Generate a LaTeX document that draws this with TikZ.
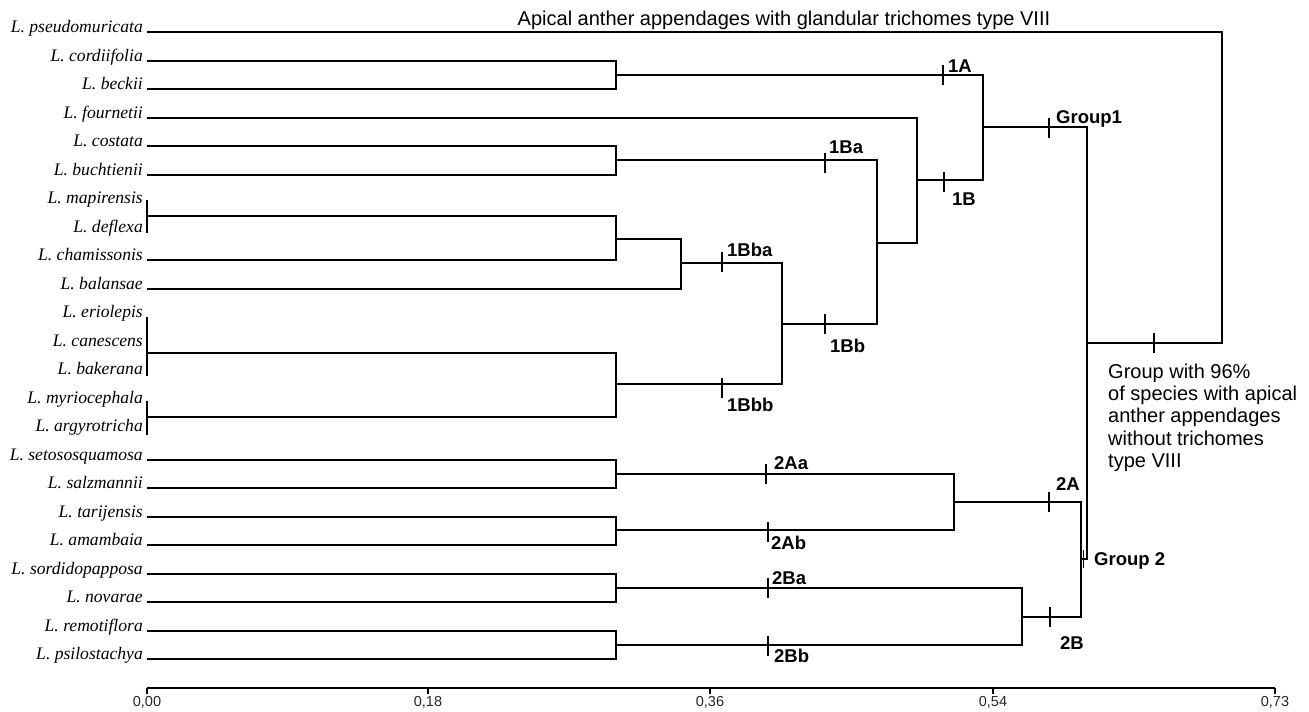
\documentclass[tikz,border=0pt]{standalone}
\usepackage{fontspec}
\setmainfont{Liberation Serif}
\newfontfamily\lsans{Liberation Sans}
\begin{document}
\begin{tikzpicture}[x=1pt,y=-1pt,
  br/.style={line width=2pt,black},
  barline/.style={line width=2.2pt,black},
  tickline/.style={line width=2pt,black},
  leaf/.style={anchor=base east,inner sep=0pt,font=\fontsize{17.6}{20}\selectfont\itshape},
  cl/.style={anchor=base west,inner sep=0pt,font=\lsans\bfseries\fontsize{18.5}{20}\selectfont},
  axlab/.style={anchor=center,inner sep=0pt,text=black!85,font=\lsans\fontsize{14.5}{16}\selectfont}]
\useasboundingbox (0,0) rectangle (1309,712);
% leaves
\foreach \n/\t/\y in {pseu/L. pseudomuricata/32, cord/L. cordiifolia/61, beck/L. beckii/89,
  four/L. fournetii/118, cost/L. costata/146, buch/L. buchtienii/175, mapi/L. mapirensis/203,
  defl/L. deflexa/232, cham/L. chamissonis/260, bala/L. balansae/289, erio/L. eriolepis/317,
  cane/L. canescens/346, bake/L. bakerana/374, myri/L. myriocephala/403, argy/L. argyrotricha/431,
  seto/L. setososquamosa/460, salz/L. salzmannii/488, tari/L. tarijensis/517, amam/L. amambaia/545,
  sord/L. sordidopapposa/574, nova/L. novarae/602, remo/L. remotiflora/631, psil/L. psilostachya/659}
{
  \node[leaf] (\n) at (143,\y) {\t};
  \coordinate (\n-t) at (147,\y);
}
% bars for grouped leaves
\coordinate (bar1) at (147,216);
\coordinate (bar2) at (147,353);
\coordinate (bar3) at (147,417);
\draw[barline] (147,200) -- (147,233);
\draw[barline] (147,317) -- (147,376);
\draw[barline] (147,401) -- (147,435);
% junctions
\coordinate (k1) at (616,75);
\coordinate (k2) at (616,160);
\coordinate (k3) at (616,239);
\coordinate (k4) at (681,263);
\coordinate (k5) at (616,384);
\coordinate (k6) at (782,324);
\coordinate (k7) at (877,243);
\coordinate (k8) at (917,180);
\coordinate (k9) at (983,127);
\coordinate (k10) at (616,474);
\coordinate (k11) at (616,530);
\coordinate (k12) at (954,502);
\coordinate (k13) at (616,588);
\coordinate (k14) at (616,645);
\coordinate (k15) at (1022,617);
\coordinate (k16) at (1081,559);
\coordinate (k17) at (1087,343);
\coordinate (root) at (1222,343);
% branches
\draw[br] (cord-t) -| (k1) |- (beck-t);
\draw[br] (cost-t) -| (k2) |- (buch-t);
\draw[br] (bar1) -| (k3) |- (cham-t);
\draw[br] (k3) -| (k4) |- (bala-t);
\draw[br] (bar2) -| (k5) |- (bar3);
\draw[br] (k4) -| (k6) |- (k5);
\draw[br] (k2) -| (k7) |- (k6);
\draw[br] (four-t) -| (k8) |- (k7);
\draw[br] (k1) -| (k9) |- (k8);
\draw[br] (seto-t) -| (k10) |- (salz-t);
\draw[br] (tari-t) -| (k11) |- (amam-t);
\draw[br] (k10) -| (k12) |- (k11);
\draw[br] (sord-t) -| (k13) |- (nova-t);
\draw[br] (remo-t) -| (k14) |- (psil-t);
\draw[br] (k13) -| (k15) |- (k14);
\draw[br] (k12) -| (k16) |- (k15);
\draw[br] (k9) -| (k17) |- (k16);
\draw[br] (pseu-t) -| (root) |- (k17);
% ticks on branches
\draw[tickline] (943,65) -- (943,85);
\draw[tickline] (944,172) -- (944,192);
\draw[tickline] (825,153) -- (825,173);
\draw[tickline] (722,252) -- (722,272);
\draw[tickline] (722,378) -- (722,398);
\draw[tickline] (825,314) -- (825,334);
\draw[tickline] (1049,118) -- (1049,138);
\draw[tickline] (1154,333) -- (1154,353);
\draw[tickline] (766,464) -- (766,484);
\draw[tickline] (768,522) -- (768,542);
\draw[tickline] (768,578) -- (768,598);
\draw[tickline] (768,636) -- (768,656);
\draw[tickline] (1049,492) -- (1049,512);
\draw[tickline] (1050,607) -- (1050,627);
\draw[line width=1.2pt] (1083.5,550) -- (1083.5,568);
% cluster labels
\node[cl] (l1A) at (948,72) {1A};
\node[cl] (l1B) at (952,205) {1B};
\node[cl] (l1Ba) at (829,153) {1Ba};
\node[cl] (l1Bba) at (727,256) {1Bba};
\node[cl] (l1Bb) at (830,352) {1Bb};
\node[cl] (l1Bbb) at (727,411) {1Bbb};
\node[cl] (lG1) at (1056,123) {Group1};
\node[cl] (l2Aa) at (774,469) {2Aa};
\node[cl] (l2Ab) at (771,549) {2Ab};
\node[cl] (l2Ba) at (772,584) {2Ba};
\node[cl] (l2Bb) at (774,662) {2Bb};
\node[cl] (l2A) at (1056,490) {2A};
\node[cl] (l2B) at (1060,649) {2B};
\node[cl] (lG2) at (1094,565) {Group 2};
% annotations
\node[anchor=base,inner sep=0pt,font=\lsans\fontsize{20}{22}\selectfont] (title) at (784,25)
  {Apical anther appendages with glandular trichomes type VIII};
\node[anchor=north west,inner sep=0pt,align=left,font=\lsans\fontsize{20}{22.3}\selectfont] (g96) at (1108,363.5)
  {Group with 96\%\\of species with apical\\anther appendages\\without trichomes\\type VIII};
% axis
\coordinate (ax0) at (147,688);
\coordinate (ax1) at (1275,688);
\draw[line width=2pt] (ax0) -- (ax1);
\foreach \x/\l [count=\i] in {147/{0,00}, 428/{0,18}, 710/{0,36}, 993/{0,54}, 1275/{0,73}}
{
  \draw[line width=1.6pt] (\x,688) -- (\x,694);
  \node[axlab] (tl\i) at (\x,702) {\l};
}
\end{tikzpicture}
\end{document}
